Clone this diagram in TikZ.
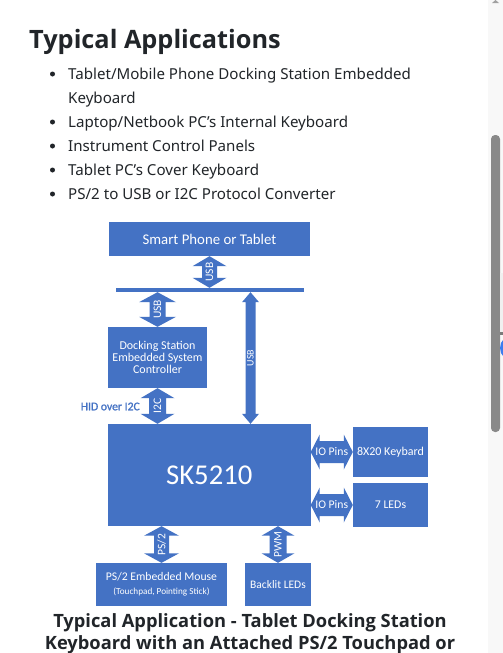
\documentclass[tikz,border=0pt]{standalone}
\usepackage{fontspec}
\setmainfont{Noto Sans}
\newfontfamily\semib{Open Sans}
\newfontfamily\dfont{Carlito}
\newfontfamily\dfontb[FakeBold=1.2]{Carlito}
\usetikzlibrary{calc}
\definecolor{boxblue}{HTML}{4472C4}
\definecolor{arrblue}{HTML}{4472C4}
\definecolor{pagetext}{HTML}{212529}
\definecolor{trackgrey}{HTML}{F8F8F8}
\definecolor{thumbgrey}{HTML}{898989}
\definecolor{dotblue}{HTML}{3B7DF0}
\newcommand\fs[1]{\fontsize{#1}{#1}\selectfont}
% vertical double arrow: #1 top, #2 bottom, #3 shaft half, #4 head half, #5 head length, #6 label font, #7 label
\newcommand\vdarr[7]{%
  \fill[arrblue] let \p1=#1, \p2=#2 in
    (\x1,\y1) -- ({\x1+#4pt},{\y1-#5pt}) -- ({\x1+#3pt},{\y1-#5pt}) -- ({\x1+#3pt},{\y2+#5pt})
    -- ({\x1+#4pt},{\y2+#5pt}) -- (\x1,\y2) -- ({\x1-#4pt},{\y2+#5pt}) -- ({\x1-#3pt},{\y2+#5pt})
    -- ({\x1-#3pt},{\y1-#5pt}) -- ({\x1-#4pt},{\y1-#5pt}) -- cycle;
  \node[arrlabel, font=#6, rotate=90] at ($#1!0.5!#2$) {#7};}
% horizontal double arrow: #1 left, #2 right
\newcommand\hdarr[7]{%
  \fill[arrblue] let \p1=#1, \p2=#2 in
    (\x1,\y1) -- ({\x1+#5pt},{\y1+#4pt}) -- ({\x1+#5pt},{\y1+#3pt}) -- ({\x2-#5pt},{\y1+#3pt})
    -- ({\x2-#5pt},{\y1+#4pt}) -- (\x2,\y1) -- ({\x2-#5pt},{\y1-#4pt}) -- ({\x2-#5pt},{\y1-#3pt})
    -- ({\x1+#5pt},{\y1-#3pt}) -- ({\x1+#5pt},{\y1-#4pt}) -- cycle;
  \node[arrlabel, font=#6] at ($#1!0.5!#2$) {#7};}
\begin{document}
\begin{tikzpicture}[x=1pt,y=-1pt,
  box/.style={fill=boxblue, draw=none, inner sep=0pt, text=white, align=center},
  arrlabel/.style={text=white, inner sep=0pt},
  pagetxt/.style={anchor=base west, inner sep=0pt, text=pagetext},
  captxt/.style={anchor=base, inner sep=0pt, text=pagetext, font=\semib\bfseries\fs{18.3}},
  bullet/.style={circle, fill=pagetext, inner sep=0pt, minimum size=5pt}]
\useasboundingbox (0,0) rectangle (503,653);
\fill[white] (0,0) rectangle (503,653);

% page text
\node[pagetxt, font=\semib\bfseries\fs{25.3}] (title) at (29,48) {Typical Applications};
\begin{scope}[every node/.append style={font=\fs{15.1}}]
\node[pagetxt] (l1) at (68,79.5) {Tablet/Mobile Phone Docking Station Embedded};
\node[pagetxt] (l1b) at (68,103.5) {Keyboard};
\node[pagetxt] (l2) at (68,127) {Laptop/Netbook PC's Internal Keyboard};
\node[pagetxt] (l3) at (68,151) {Instrument Control Panels};
\node[pagetxt] (l4) at (68,175) {Tablet PC's Cover Keyboard};
\node[pagetxt] (l5) at (68,199) {PS/2 to USB or I2C Protocol Converter};
\end{scope}
\foreach \y/\n in {74/d1,122/d2,146/d3,170/d4,194/d5}
  \node[bullet] (\n) at (52.5,\y) {};

% diagram boxes
\node[box, minimum width=201pt, minimum height=34pt, font=\dfont\fs{14.8}] (phone) at (209.5,239) {Smart Phone or Tablet};
\node[fill=boxblue, minimum width=188pt, minimum height=4pt, inner sep=0pt] (bar) at (209.5,290) {};
\node[box, minimum width=99pt, minimum height=61pt, font=\dfont\fs{12}] (dock) at (157.5,357.5)
  {Docking Station\\[0pt]Embedded System\\[0pt]Controller};
\node[box, minimum width=202.5pt, minimum height=102pt, font=\dfont\fs{28.7}] (sk) at (209.25,475) {SK5210};
\node[box, minimum width=75pt, minimum height=50pt, font=\dfont\fs{12}] (kbd) at (390.5,452) {8X20 Keybard};
\node[box, minimum width=75pt, minimum height=44pt, font=\dfont\fs{11.8}] (leds) at (390.5,505) {7 LEDs};
\node[box, minimum width=131pt, minimum height=43pt] (mouse) at (161.5,584.5)
  {{\dfont\fs{11.7}PS/2 Embedded Mouse}\\[2pt]{\dfont\fs{9.2}(Touchpad, Pointing Stick)}};
\node[box, minimum width=66pt, minimum height=43pt, font=\dfont\fs{11.5}] (backlit) at (278,584.5) {Backlit LEDs};
\node[anchor=east, inner sep=0pt, text=boxblue, font=\dfontb\fs{11.7}] (hid) at (140,406.5) {HID over I2C};
\coordinate (ux) at (250.5,0);

% connectors
\vdarr{(phone.south)}{(phone.south |- bar.north)}{7.5}{17}{10}{\dfont\fs{11.5}}{USB}
\vdarr{(dock.north |- bar.south)}{(dock.north)}{8}{18.5}{10}{\dfont\fs{11.5}}{USB}
\vdarr{(dock.south)}{(dock.south |- sk.north)}{8.5}{17}{10}{\dfont\fs{11.5}}{I2C}
\vdarr{(ux |- bar.south)}{(ux |- sk.north)}{5}{8.5}{10}{\dfont\fs{10}}{USB}
\hdarr{(sk.east |- kbd.west)}{(kbd.west)}{11}{17.5}{9}{\dfont\fs{11.7}}{IO Pins}
\hdarr{(sk.east |- leds.west)}{(leds.west)}{11}{17.5}{9}{\dfont\fs{11.7}}{IO Pins}
\vdarr{(mouse.north |- sk.south)}{(mouse.north)}{7.5}{17.5}{9.5}{\dfont\fs{11.5}}{PS/2}
\vdarr{(backlit.north |- sk.south)}{(backlit.north)}{8.5}{16.5}{9.5}{\dfont\fs{11.5}}{PWM}

% caption
\node[captxt] (cap1) at (250,627) {Typical Application - Tablet Docking Station};
\node[captxt] (cap2) at (250,649) {Keyboard with an Attached PS/2 Touchpad or};

% scrollbar
\fill[trackgrey] (488,0) rectangle (503,653);
\fill[thumbgrey, rounded corners=4pt] (491,135) rectangle (500,432);
\fill[thumbgrey!80] (492,3) -- (495.5,0) -- (499,3) -- cycle;
\begin{scope}
\clip (0,0) rectangle (503,653);
\fill[black!6] (500,273) rectangle (503,333);
\fill[thumbgrey!90!black] (499.5,332) rectangle (503,335);
\fill[dotblue] (513,348) circle (13);
\end{scope}
\end{tikzpicture}
\end{document}
